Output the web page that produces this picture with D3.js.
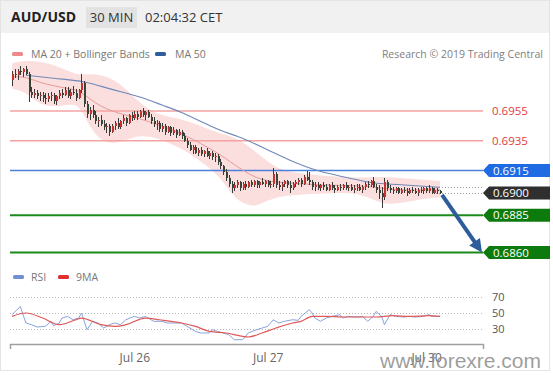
<!DOCTYPE html>
<html><head><meta charset="utf-8">
<script src="https://cdn.jsdelivr.net/npm/d3@7"></script>
<style>
html,body{margin:0;padding:0;background:#fff;}
svg{display:block;font-family:"Open Sans",sans-serif;}
</style></head><body>
<svg id="c" width="553" height="375"></svg>
<script>
// ---------- DATA ----------
const opens=[0.6976,0.6980,0.6979,0.6982,0.6981,0.6983,0.6980,0.6968,0.6966,0.6967,
0.6965,0.6966,0.6964,0.6963,0.6965,0.6966,0.6962,0.6965,0.6967,0.6966,
0.6969,0.6965,0.6968,0.6967,0.6964,0.6969,0.6974,0.6960,0.6953,0.6956,
0.6952,0.6948,0.6949,0.6946,0.6944,0.6945,0.6941,0.6945,0.6947,0.6944,
0.6948,0.6950,0.6947,0.6952,0.6950,0.6953,0.6951,0.6955,0.6952,0.6954,
0.6951,0.6948,0.6946,0.6947,0.6943,0.6945,0.6941,0.6944,0.6940,0.6942,
0.6939,0.6941,0.6938,0.6935,0.6932,0.6929,0.6931,0.6927,0.6929,0.6926,
0.6928,0.6925,0.6927,0.6924,0.6925,0.6921,0.6918,0.6914,0.6910,0.6906,
0.6903,0.6905,0.6907,0.6903,0.6906,0.6904,0.6907,0.6905,0.6908,0.6905,
0.6907,0.6906,0.6908,0.6905,0.6906,0.6913,0.6905,0.6904,0.6906,0.6908,
0.6905,0.6903,0.6906,0.6907,0.6909,0.6906,0.6911,0.6909,0.6907,0.6904,
0.6905,0.6903,0.6905,0.6904,0.6902,0.6905,0.6903,0.6902,0.6904,0.6903,
0.6905,0.6903,0.6904,0.6902,0.6903,0.6904,0.6902,0.6904,0.6906,0.6905,
0.6908,0.6904,0.6902,0.6900,0.6897,0.6907,0.6903,0.6902,0.6901,0.6903,
0.6900,0.6902,0.6901,0.6900,0.6902,0.6901,0.6900,0.6902,0.6901,0.6903,
0.6901,0.6903,0.6900,0.6902,0.6901];
const highs=[0.6982,0.6983,0.6983,0.6985,0.6984,0.6985,0.6981,0.6971,0.6970,0.6969,
0.6968,0.6968,0.6967,0.6967,0.6968,0.6967,0.6966,0.6969,0.6970,0.6971,
0.6971,0.6970,0.6972,0.6970,0.6970,0.6980,0.6975,0.6962,0.6958,0.6959,
0.6955,0.6951,0.6952,0.6949,0.6947,0.6946,0.6946,0.6948,0.6950,0.6949,
0.6952,0.6951,0.6953,0.6954,0.6955,0.6955,0.6956,0.6957,0.6955,0.6956,
0.6953,0.6951,0.6949,0.6948,0.6947,0.6946,0.6945,0.6945,0.6944,0.6943,
0.6943,0.6942,0.6940,0.6937,0.6934,0.6932,0.6932,0.6930,0.6931,0.6929,
0.6930,0.6928,0.6928,0.6927,0.6926,0.6923,0.6919,0.6916,0.6912,0.6908,
0.6907,0.6909,0.6908,0.6907,0.6908,0.6908,0.6909,0.6909,0.6909,0.6908,
0.6910,0.6909,0.6909,0.6908,0.6917,0.6914,0.6908,0.6907,0.6909,0.6909,
0.6908,0.6907,0.6909,0.6910,0.6910,0.6912,0.6915,0.6914,0.6909,0.6907,
0.6907,0.6906,0.6907,0.6906,0.6906,0.6907,0.6905,0.6905,0.6906,0.6906,
0.6907,0.6905,0.6906,0.6905,0.6906,0.6906,0.6905,0.6907,0.6908,0.6909,
0.6911,0.6906,0.6905,0.6904,0.6910,0.6909,0.6905,0.6904,0.6904,0.6904,
0.6903,0.6904,0.6903,0.6903,0.6904,0.6903,0.6903,0.6904,0.6904,0.6904,
0.6905,0.6904,0.6903,0.6903,0.6902];
const lows=[0.6972,0.6977,0.6976,0.6979,0.6978,0.6979,0.6961,0.6964,0.6964,0.6963,
0.6962,0.6961,0.6960,0.6961,0.6962,0.6960,0.6959,0.6963,0.6964,0.6965,
0.6964,0.6963,0.6966,0.6962,0.6963,0.6967,0.6958,0.6950,0.6949,0.6950,
0.6946,0.6944,0.6945,0.6942,0.6940,0.6938,0.6940,0.6942,0.6943,0.6943,
0.6946,0.6945,0.6946,0.6948,0.6949,0.6949,0.6950,0.6951,0.6949,0.6950,
0.6946,0.6944,0.6942,0.6941,0.6941,0.6939,0.6940,0.6938,0.6939,0.6937,
0.6938,0.6936,0.6934,0.6930,0.6928,0.6926,0.6926,0.6925,0.6925,0.6924,
0.6924,0.6923,0.6922,0.6921,0.6919,0.6916,0.6912,0.6908,0.6904,0.6900,
0.6901,0.6903,0.6901,0.6902,0.6902,0.6903,0.6904,0.6904,0.6903,0.6903,
0.6905,0.6904,0.6904,0.6903,0.6904,0.6903,0.6902,0.6901,0.6904,0.6903,
0.6900,0.6902,0.6904,0.6905,0.6904,0.6905,0.6908,0.6905,0.6902,0.6901,
0.6902,0.6901,0.6902,0.6901,0.6901,0.6902,0.6900,0.6901,0.6901,0.6902,
0.6902,0.6901,0.6901,0.6900,0.6901,0.6901,0.6900,0.6902,0.6903,0.6904,
0.6903,0.6900,0.6896,0.6890,0.6895,0.6901,0.6900,0.6899,0.6900,0.6899,
0.6899,0.6900,0.6898,0.6899,0.6900,0.6899,0.6898,0.6900,0.6899,0.6900,
0.6900,0.6899,0.6899,0.6899,0.6899];
const closes=[0.6980,0.6979,0.6982,0.6981,0.6983,0.6980,0.6968,0.6966,0.6967,0.6965,
0.6966,0.6964,0.6963,0.6965,0.6966,0.6962,0.6965,0.6967,0.6966,0.6969,
0.6965,0.6968,0.6967,0.6964,0.6969,0.6974,0.6960,0.6953,0.6956,0.6952,
0.6948,0.6949,0.6946,0.6944,0.6945,0.6941,0.6945,0.6947,0.6944,0.6948,
0.6950,0.6947,0.6952,0.6950,0.6953,0.6951,0.6955,0.6952,0.6954,0.6951,
0.6948,0.6946,0.6947,0.6943,0.6945,0.6941,0.6944,0.6940,0.6942,0.6939,
0.6941,0.6938,0.6935,0.6932,0.6929,0.6931,0.6927,0.6929,0.6926,0.6928,
0.6925,0.6927,0.6924,0.6925,0.6921,0.6918,0.6914,0.6910,0.6906,0.6903,
0.6905,0.6907,0.6903,0.6906,0.6904,0.6907,0.6905,0.6908,0.6905,0.6907,
0.6906,0.6908,0.6905,0.6906,0.6913,0.6905,0.6904,0.6906,0.6908,0.6905,
0.6903,0.6906,0.6907,0.6909,0.6906,0.6911,0.6909,0.6907,0.6904,0.6905,
0.6903,0.6905,0.6904,0.6902,0.6905,0.6903,0.6902,0.6904,0.6903,0.6905,
0.6903,0.6904,0.6902,0.6903,0.6904,0.6902,0.6904,0.6906,0.6905,0.6908,
0.6904,0.6902,0.6900,0.6897,0.6907,0.6903,0.6902,0.6901,0.6903,0.6900,
0.6902,0.6901,0.6900,0.6902,0.6901,0.6900,0.6902,0.6901,0.6903,0.6901,
0.6903,0.6900,0.6902,0.6901,0.6900];

// Bollinger bands / MA20 (read at candle indexes)
const bandIndex=[0,5,10,15,20,24,28,32,36,41,46,52,57,62,68,73,77,80,84,88,92,97,104,115,126,133,140,147,154];
const bandUpper=[0.6987,0.6989,0.6988,0.6986,0.6982,0.6979,0.6980,0.6979,0.6977,0.6970,0.6960,0.6953,0.6951,0.6949,0.6945,0.6941,0.6939,0.6937,0.6933,0.6927,0.6921,0.6915,0.6913,0.6911,0.6910,0.6911,0.6910,0.6909,0.6908];
const bandLower=[0.6970,0.6968,0.6959,0.6958,0.6959,0.6960,0.6944,0.6935,0.6933,0.6935,0.6939,0.6937,0.6933,0.6929,0.6921,0.6914,0.6905,0.6897,0.6892,0.6891,0.6895,0.6898,0.6899,0.6900,0.6900,0.6892,0.6893,0.6896,0.6897];
const ma20=[0.6978,0.6978,0.6974,0.6972,0.6970,0.6969,0.6963,0.6958,0.6955,0.6952,0.6950,0.6946,0.6943,0.6939,0.6933,0.6928,0.6923,0.6919,0.6914,0.6910,0.6908,0.6907,0.6906,0.6905,0.6905,0.6903,0.6902,0.6902,0.6902];
// MA 50
const ma50Index=[5,15,26,36,46,54,61,68,75,81,85,93,100,110,120,129,140,154];
const ma50=[0.6979,0.6977,0.69745,0.69695,0.69644,0.6959,0.6954,0.6948,0.6942,0.6938,0.6935,0.6928,0.6922,0.6915,0.69105,0.6907,0.69055,0.69038];

// Levels
const levelValues=[0.6955,0.6935,0.6915,0.6900,0.6885,0.6860];
const levelLabels=["0.6955","0.6935","0.6915","0.6900","0.6885","0.6860"];
const levelKinds=["res","res","pivot","last","sup","sup"];

// RSI panel
const rsiIndex=[0,3,5,7,9,12,14,15,17,18,20,22,24,25,27,29,31,33,35,37,39,41,44,46,48,50,51,54,56,59,61,63,66,68,71,72,74,76,78,80,83,85,88,90,92,94,96,98,101,103,104,107,108,109,111,113,115,118,119,121,124,126,128,130,131,133,134,136,138,141,143,145,148,150,151,154];
const rsiValues=[48,58,37.5,35.4,32.5,33.3,39.6,34.1,37.5,43.7,45.8,41.6,43.7,50,29.1,39.6,37.5,31.2,35.4,37.5,35.4,41.6,45.8,43.7,45.8,41.6,39.6,39.6,37.5,37.5,37.5,33.3,27,25,25,29.1,27,25,22.9,16.6,16.6,25,29.1,31.2,33.3,41.6,37.5,39.6,41.6,40.8,45.8,54.1,50,43.7,39.6,43.7,45.8,47.9,43.7,45.8,45,45.8,39.6,45.8,52,45.8,35.4,47.9,45.8,45,45.8,45,45.8,47.9,45.8,45.8];
const rsiMaIndex=[0,5,11,17,23,25,32,37,41,48,53,61,66,71,77,83,85,90,95,101,104,108,113,119,125,131,137,143,150,154];
const rsiMaValues=[45.8,50,43.7,35.4,41.6,43.7,35.4,33.3,35.4,43.7,41.6,37.5,33.3,27,25,20.8,20,25,31.2,37.5,39.6,45.8,45.8,45,45,45,46.6,45.8,46.6,45.8];
const rsiTicks=[70,50,30];

// Date axis
const dateLabels=["Jul 26","Jul 27","Jul 30"];
const dateIndex=[44,92,149];

// ---------- DRAW ----------
const svg=d3.select("#c");
svg.append("rect").attr("x",0.5).attr("y",0.5).attr("width",549).attr("height",370)
  .attr("fill","#fff").attr("stroke","#e4e4e4");
svg.append("rect").attr("x",1).attr("y",1).attr("width",548).attr("height",32).attr("fill","#f1f1f1");

// header
svg.append("text").attr("x",11).attr("y",22).attr("font-size",14).attr("font-weight","bold")
  .attr("fill","#222").text("AUD/USD");
svg.append("rect").attr("x",86).attr("y",7).attr("width",51).attr("height",21).attr("fill","#e2e2e2");
svg.append("text").attr("x",111.5).attr("y",22).attr("text-anchor","middle").attr("font-size",13)
  .attr("fill","#333").text("30 MIN");
svg.append("text").attr("x",145).attr("y",22).attr("font-size",13).attr("fill","#333").text("02:04:32 CET");

// legend
function swatch(x,y,c){svg.append("rect").attr("x",x).attr("y",y-2).attr("width",11).attr("height",4).attr("rx",1.5).attr("fill",c);}
swatch(12,54,"#ee8a8a");
svg.append("text").attr("x",31).attr("y",58).attr("font-size",10.5).attr("fill","#777").text("MA 20 + Bollinger Bands");
swatch(155,54,"#2e5d9c");
svg.append("text").attr("x",175).attr("y",58).attr("font-size",10.5).attr("fill","#777").text("MA 50");
svg.append("text").attr("x",543).attr("y",58).attr("text-anchor","end").attr("font-size",10.5).attr("fill","#808080")
  .text("Research © 2019 Trading Central");

// scales
const x=d3.scaleLinear().domain([0,closes.length-1]).range([12,440]);
const y=d3.scaleLinear().domain([0.6860,0.6955]).range([252.5,111]);

// bollinger band
const band=d3.area().curve(d3.curveBasis)
  .x((d,i)=>x(bandIndex[i])).y0((d,i)=>y(bandLower[i])).y1((d,i)=>y(bandUpper[i]));
svg.append("path").attr("d",band(bandIndex)).attr("fill","#fbdede");

// level lines
const levelColor={res:"#f4a2a2",pivot:"#4b80dc",sup:"#1c8a1c"};
const boxColor={pivot:"#1f6be3",last:"#2f2f2f",sup:"#0c7a0c"};
levelValues.forEach((v,i)=>{
  const k=levelKinds[i], yy=y(v);
  if(k!=="last"){
    svg.append("line").attr("x1",10).attr("x2",483).attr("y1",yy).attr("y2",yy)
      .attr("stroke",levelColor[k]).attr("stroke-width",k==="sup"?2:1.5);
  }
});

// MA20 & MA50
svg.append("path").attr("d",d3.line().curve(d3.curveBasis).x((d,i)=>x(bandIndex[i])).y(d=>y(d))(ma20))
  .attr("fill","none").attr("stroke","#e99a9a").attr("stroke-width",1);
svg.append("path").attr("d",d3.line().curve(d3.curveMonotoneX).x((d,i)=>x(ma50Index[i])).y(d=>y(d))(ma50))
  .attr("fill","none").attr("stroke","#7189b8").attr("stroke-width",1.1);

// dotted lines to labels
const lastI=closes.length-1;
[ma50[ma50.length-1],closes[lastI]].forEach(v=>{
  svg.append("line").attr("x1",x(lastI)-4).attr("x2",483).attr("y1",Math.round(y(v))+0.5).attr("y2",Math.round(y(v))+0.5)
    .attr("stroke","#9a9a9a").attr("stroke-dasharray","1,2");
});

// candles
const idx=d3.range(closes.length);
const cg=svg.append("g").attr("shape-rendering","crispEdges");
cg.selectAll("line.w").data(idx).join("line").attr("class","w")
  .attr("x1",i=>Math.round(x(i))+0.5).attr("x2",i=>Math.round(x(i))+0.5)
  .attr("y1",i=>y(highs[i])).attr("y2",i=>y(lows[i]))
  .attr("stroke","#3a3a3a").attr("stroke-width",1);
cg.selectAll("rect.b").data(idx).join("rect").attr("class","b")
  .attr("x",i=>Math.round(x(i))-0.5).attr("width",2)
  .attr("y",i=>y(Math.max(opens[i],closes[i])))
  .attr("height",i=>Math.max(1,Math.abs(y(opens[i])-y(closes[i]))))
  .attr("fill",i=>closes[i]>opens[i]?"#c8322c":"#34463a");

// arrow
(function(){
  const x0=x(lastI)+2, y0=y(closes[lastI])+2, x1=482, y1=y(0.6860);
  const dx=x1-x0, dy=y1-y0, L=Math.hypot(dx,dy), ux=dx/L, uy=dy/L;
  const hl=13, hw=6.5;
  svg.append("line").attr("x1",x0).attr("y1",y0).attr("x2",x1-ux*(hl-1)).attr("y2",y1-uy*(hl-1))
    .attr("stroke","#2d5c9a").attr("stroke-width",4);
  const bx=x1-ux*hl, by=y1-uy*hl;
  svg.append("polygon").attr("points",[[x1,y1],[bx-uy*hw,by+ux*hw],[bx+uy*hw,by-ux*hw]].map(p=>p.join(",")).join(" "))
    .attr("fill","#2d5c9a");
})();

// level labels
levelValues.forEach((v,i)=>{
  const k=levelKinds[i], yy=y(v);
  if(k==="res"){
    svg.append("text").attr("x",492).attr("y",yy+4).attr("font-size",11.5).attr("fill","#e23b3b").text(levelLabels[i]);
  } else {
    const h=6.5;
    svg.append("polygon").attr("points",[[483,yy],[489,yy-h],[550,yy-h],[550,yy+h],[489,yy+h]].map(p=>p.join(",")).join(" "))
      .attr("fill",boxColor[k]);
    svg.append("text").attr("x",493).attr("y",yy+4).attr("font-size",11.5).attr("fill","#fff").text(levelLabels[i]);
  }
});

// RSI panel
const ry=d3.scaleLinear().domain([30,70]).range([329,297]);
swatch(13,277,"#6f8fd6");
svg.append("text").attr("x",31).attr("y",281).attr("font-size",10.5).attr("fill","#777").text("RSI");
swatch(58,277,"#e03030");
svg.append("text").attr("x",76).attr("y",281).attr("font-size",10.5).attr("fill","#777").text("9MA");
rsiTicks.forEach(t=>{
  svg.append("line").attr("x1",10).attr("x2",483).attr("y1",Math.round(ry(t))+0.5).attr("y2",Math.round(ry(t))+0.5)
    .attr("stroke","#b8b8b8").attr("stroke-dasharray","1,2");
  svg.append("text").attr("x",492).attr("y",ry(t)+4).attr("font-size",11).attr("fill","#555").text(t);
});
svg.append("path").attr("d",d3.line().x((d,i)=>x(rsiIndex[i])).y(d=>ry(d))(rsiValues))
  .attr("fill","none").attr("stroke","#8aa3dc").attr("stroke-width",1);
svg.append("path").attr("d",d3.line().curve(d3.curveMonotoneX).x((d,i)=>x(rsiMaIndex[i])).y(d=>ry(d))(rsiMaValues))
  .attr("fill","none").attr("stroke","#e05858").attr("stroke-width",1.2);

// bottom axis
const axG=svg.append("g").attr("transform","translate(0,344)");
axG.call(d3.axisBottom(x).tickValues(dateIndex).tickFormat((d,i)=>dateLabels[i]).tickSize(0).tickPadding(9));
axG.select(".domain").remove();
axG.selectAll("text").attr("font-size",12).attr("fill","#666").attr("font-family","Open Sans, sans-serif");
svg.append("path").attr("d","M10.5,349V344.5H483.5V349").attr("fill","none").attr("stroke","#a0a0a0").attr("stroke-width",1.5);

// watermark (overlaps the "Jul 30" label, as in the reference)
svg.append("text").attr("x",380).attr("y",368).attr("font-size",21).attr("font-family","Liberation Sans, Arial, sans-serif")
  .attr("fill","#8c8c8c").attr("fill-opacity",0.85).text("www.forexre.com");
</script>
</body></html>
